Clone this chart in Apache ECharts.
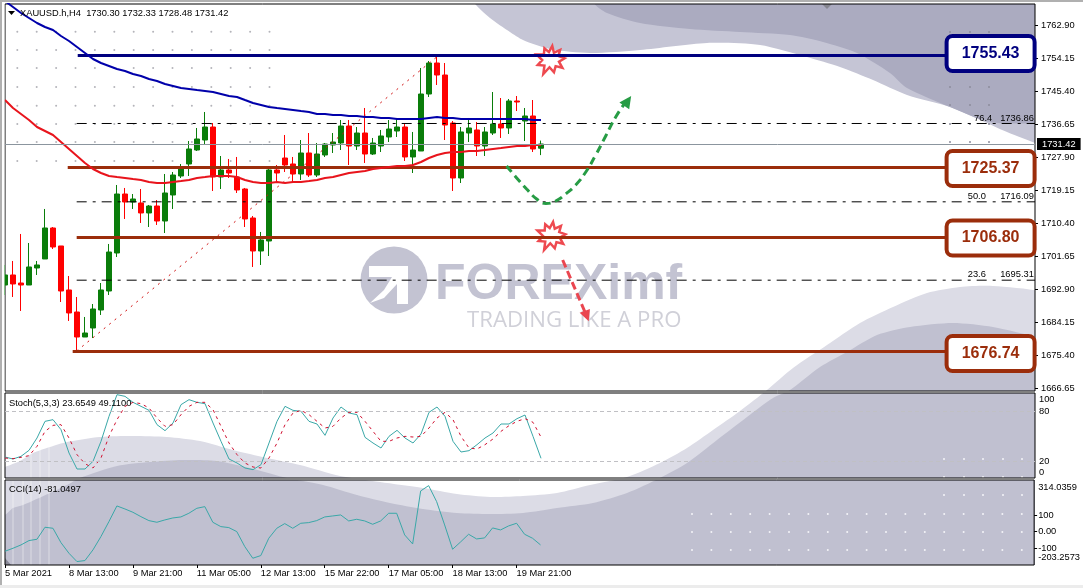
<!DOCTYPE html>
<html>
<head>
<meta charset="utf-8">
<style>
  html, body { margin: 0; padding: 0; background: #fff; }
  #chart { width: 1083px; height: 588px; }
</style>
</head>
<body>
<div id="chart"></div>
<script src="https://cdn.jsdelivr.net/npm/echarts@6/dist/echarts.min.js"></script>
<script>
// H4 candles
const opens = [1694.03,1696.69,1694.56,1694.03,1698.54,1700.93,1709.15,1704.38,1692.71,1686.87,1680.24,1682.63,1687.40,1692.44,1702.52,1718.16,1716.04,1715.78,1713.13,1714.98,1711.00,1717.90,1722.94,1726.12,1729.83,1732.48,1735.93,1722.67,1724.53,1722.67,1719.49,1711.80,1703.05,1705.70,1724.53,1727.71,1726.12,1723.47,1729.04,1723.20,1728.51,1731.16,1731.69,1736.20,1730.89,1734.34,1728.77,1730.89,1733.28,1734.87,1735.93,1727.98,1729.57,1744.68,1752.90,1749.72,1736.99,1722.41,1734.34,1735.14,1730.89,1734.34,1736.73,1735.67,1742.83,1737.52,1738.85,1730.30];
const closes = [1696.69,1694.30,1694.03,1698.81,1699.34,1709.15,1704.11,1692.44,1686.61,1680.24,1681.30,1687.67,1692.71,1702.78,1718.16,1716.04,1716.84,1713.13,1714.98,1711.00,1718.43,1723.20,1725.06,1730.10,1732.75,1735.93,1722.67,1724.53,1723.73,1719.23,1711.54,1703.05,1705.97,1724.53,1723.73,1725.85,1723.47,1729.04,1723.20,1728.77,1731.42,1731.95,1736.20,1730.89,1734.34,1728.77,1731.69,1733.55,1735.40,1735.93,1727.98,1729.83,1744.68,1752.90,1749.72,1736.46,1722.41,1734.61,1735.67,1730.89,1734.61,1736.73,1735.67,1742.83,1742.56,1738.85,1730.10,1731.42];
const lows = [1691.38,1690.85,1687.14,1694.03,1696.69,1700.93,1703.58,1689.52,1684.49,1676.27,1680.24,1679.98,1686.08,1691.38,1701.46,1711.54,1714.19,1710.48,1709.41,1709.95,1707.82,1714.19,1722.41,1722.94,1729.57,1731.16,1718.96,1719.49,1722.41,1718.43,1709.41,1698.81,1699.34,1701.72,1721.35,1724.00,1721.35,1721.88,1722.67,1722.67,1727.98,1729.04,1729.83,1725.85,1729.83,1726.39,1728.51,1729.30,1731.95,1733.28,1726.92,1723.73,1729.57,1743.89,1747.07,1732.48,1718.96,1721.08,1731.95,1728.24,1728.24,1733.81,1733.02,1734.08,1740.17,1732.22,1729.30,1728.48];
const highs = [1699.34,1700.40,1707.56,1705.17,1700.40,1714.19,1709.41,1704.38,1696.42,1690.85,1685.55,1688.99,1694.56,1704.91,1720.55,1719.76,1718.16,1719.49,1715.25,1716.57,1723.47,1724.00,1726.12,1732.22,1735.67,1739.91,1736.99,1728.24,1727.45,1727.98,1719.76,1712.33,1708.09,1725.06,1725.85,1733.81,1727.98,1732.48,1734.34,1731.69,1731.69,1734.34,1737.79,1737.79,1735.93,1740.97,1733.02,1735.14,1737.79,1738.32,1736.99,1734.61,1751.58,1753.43,1754.50,1752.90,1737.52,1735.93,1738.32,1737.26,1735.93,1745.21,1743.62,1743.36,1744.15,1740.97,1743.09,1732.33];

// moving averages on the price pane
const blueMa = [1769.34,1767.75,1766.16,1764.84,1763.51,1762.45,1761.65,1760.06,1758.74,1757.15,1755.56,1753.96,1752.90,1752.11,1751.31,1750.78,1749.99,1749.46,1748.66,1748.13,1747.33,1746.80,1746.27,1746.01,1745.74,1745.48,1745.21,1744.68,1744.15,1743.89,1743.09,1742.30,1741.77,1741.24,1740.97,1740.71,1740.44,1740.17,1739.91,1739.38,1739.38,1739.11,1739.11,1738.85,1738.85,1738.58,1738.58,1738.32,1738.32,1738.05,1738.05,1738.05,1738.05,1738.32,1738.58,1738.32,1738.32,1738.05,1738.05,1738.05,1738.05,1738.05,1738.05,1738.05,1738.05,1738.05,1737.79,1737.79];
const redMa = [1743.09,1740.97,1739.38,1737.79,1735.93,1734.87,1733.81,1731.95,1730.10,1728.24,1726.39,1724.79,1723.73,1722.94,1722.67,1722.41,1722.14,1721.88,1721.35,1721.08,1721.08,1721.35,1721.61,1721.88,1722.41,1722.67,1722.94,1722.94,1722.94,1722.67,1721.88,1721.35,1721.08,1721.08,1721.35,1721.08,1721.35,1721.35,1721.61,1721.88,1722.41,1722.67,1723.20,1723.73,1724.00,1724.26,1724.79,1725.06,1725.33,1725.59,1725.59,1725.85,1726.65,1727.71,1728.51,1729.04,1729.30,1729.30,1729.57,1729.57,1729.83,1730.10,1730.36,1730.63,1730.89,1730.89,1731.16,1731.16];

// indicators
const stochMain = [25.2,22.8,26,33.2,48,68,70,58,30,10.8,10.8,20,44,74,100,98,90.8,86,81.2,64,56.8,66,88,94,90.8,89.2,66,44,22.8,18,12,10,16,42,68,86,81.2,80,68,64.8,51.2,72,85.2,78,76,48.8,42,36,50,57.2,48,42,52.8,78.8,85.2,74,44,31.2,32.8,40,48,54,64.8,64.8,71.2,75.6,50,23.65];
const stochSignal = [24,23.2,24.8,26.8,38,56,63.2,64,48,28,17.2,12,24,50,70,86,90.8,89.2,84,72,62,64,76,86,90.8,90.8,82,62,42,28,18,13.2,12,24,42,64,78,81.2,76,68,60,62,72,78.8,78.8,68,56,44,44,48,50,49.2,50,60,72,78.8,70,50,36,34.8,40,46.8,56,62.8,68,71.2,66.8,49.11];
const cci = [-119.6,-101.4,-81.1,-54.7,-46.6,26.4,20.3,-66.9,-131.7,-182.4,-176.3,-111.5,-30.4,60.8,156.1,137.9,117.6,91.2,66.9,56.8,71,83.1,89.2,111.5,141.9,152,56.8,30.4,24.4,0,-91.2,-162.1,-145.9,-40.5,20.3,48.7,20.3,50.7,54.8,66.9,89.2,95.3,101.4,64.9,75,64.9,44.6,64.9,111.5,111.5,-20.2,-75,247.3,279.8,182.5,40.6,-107.4,-62.8,-16.2,-44.6,-38.5,22.3,10.2,34.5,50.7,-16.2,-40.5,-81.05];

// axis labels
const priceTicks = [1762.90,1754.15,1745.40,1736.65,1727.90,1719.15,1710.40,1701.65,1692.90,1684.15,1675.40,1666.65];
const timeBars = [0,8,16,24,32,40,48,56,64];
const timeLabels = ['5 Mar 2021','8 Mar 13:00','9 Mar 21:00','11 Mar 05:00','12 Mar 13:00','15 Mar 22:00','17 Mar 05:00','18 Mar 13:00','19 Mar 21:00'];

// drawn support / resistance levels
const levelNames = ['1755.43','1725.37','1706.80','1676.74'];
const levelPrices = [1754.89,1725.19,1706.63,1676.40];
const levelStartBars = [9.09,7.84,8.96,8.46];
const levelBoxPrices = [1755.42,1724.93,1706.50,1675.87];
const levelColors = ['#00007f','#9b2d0b','#9b2d0b','#9b2d0b'];

// fibonacci
const fibRatios = ['76.4','50.0','23.6'];
const fibPrices = [1736.86,1716.09,1695.31];
const fibRatioBars = [123.4,122.6,122.6];
const fibTrendBars = [8.96,53.96];
const fibTrendPrices = [1676.53,1754.50];

// hand drawn arrows
const greenArrowBars = [62.7,63.96,65.2,66.46,67.6,68.84,70.09,71.34,72.6,73.84,75.09,76.34,77.6];
const greenArrowPrices = [1725.59,1722.41,1719.49,1716.84,1715.65,1716.31,1718.17,1720.55,1724.00,1728.51,1733.55,1738.58,1742.56];
const redArrowBars = [69.71,72.6];
const redArrowPrices = [1700.66,1686.34];
const starBars = [68.2,68.3];
const starPrices = [1753.7,1707.03];

const lastPrice = 1731.42;
const lastBar = 128.75;
const textFont = 'Liberation Sans';
const bars = opens.map((_, i) => i);
const zip = (xs, ys) => xs.map((x, i) => [x, ys[i]]);

const chart = echarts.init(document.getElementById('chart'));

// background artwork of the template, sits behind everything
const poly = (points, fill) => ({ type: 'polygon', z: -10, shape: { points, smooth: 0.25 }, style: { fill }, silent: true });
const rect = (x, y, width, height, fill, z) => ({ type: 'rect', z: z === undefined ? -5 : z, shape: { x, y, width, height }, style: { fill }, silent: true });
const label = (text, x, y, size) => ({
  type: 'text', z: 50, x, y, silent: true,
  style: { text, fill: '#000', font: (size || 9.3) + 'px "' + textFont + '"', verticalAlign: 'middle' }
});

let art = [
  poly([[440,-60],[472,0],[490,18],[510,32],[523,40],[550,49],[590,53],[640,50],[707,43],[760,45],[807,57],[840,67],[873,80],[907,95],[950,107],[1007,132],[1040,145],[1120,180],[1120,-60]], '#c5c5d5'),
  poly([[570,-60],[593,2],[607,13],[640,23],[690,29],[740,32],[790,35],[823,42],[857,53],[890,73],[907,88],[950,107],[990,122],[1040,124],[1120,130],[1120,-60]], '#ababc0'),
  poly([[-50,490],[5,467],[20,461],[33,453],[50,447],[67,442],[100,437],[133,436],[167,437],[200,441],[233,450],[267,458],[300,465],[340,476],[380,482],[423,488],[457,494],[490,497],[523,496],[557,493],[590,485],[627,477],[660,463],[687,448],[713,430],[740,411],[767,390],[793,368],[827,345],[860,323],[893,307],[927,293],[960,287],[993,286],[1040,291],[1120,310],[1120,680],[-50,680]], '#dcdce6'),
  poly([[-50,550],[5,515],[13,508],[23,505],[50,493],[67,485],[80,478],[117,466],[150,462],[183,460],[217,461],[250,468],[283,477],[323,485],[357,495],[390,503],[423,509],[457,513],[490,514],[523,513],[557,508],[593,503],[627,493],[660,478],[687,463],[717,440],[747,417],[773,398],[790,390],[820,367],[847,352],[877,335],[910,327],[953,323],[993,327],[1040,338],[1120,360],[1120,680],[-50,680]], '#c0c0d0'),
  { type: 'polygon', z: -9, shape: { points: [[5,558],[5,565],[11,565]] }, style: { fill: '#8a8a98' }, silent: true },
  { type: 'polygon', z: -9, shape: { points: [[822,4],[832,4],[827,9]] }, style: { fill: '#85858f' }, silent: true }
];

// faint stripes at the left of the indicator panes
[13,23,31,40,49].forEach((x, i) => {
  art.push({ type: 'line', z: -8, shape: { x1: x, y1: i < 2 ? 481 : 447, x2: x, y2: 565 }, style: { stroke: '#fff', opacity: 0.45, lineWidth: 1 }, silent: true });
});

// dot pattern of the template
function dots(cols, rows, fill) {
  cols.forEach(x => rows.forEach(y => {
    art.push({ type: 'circle', z: -7, shape: { cx: x, cy: y, r: 1 }, style: { fill }, silent: true });
  }));
}
const dotCol = k => 17.3 + 19.4 * k;
dots([0,1,2,3,4,5,6,7,8,9,10,11,12,13].map(dotCol), [31.7,50,68,87,105.7,124,142,161], '#b4b4ba');
dots([950,970,989], [32,87,105,124,142], '#8c8c9c');
dots([944,964,983,1003,1022], [459,477,495], '#f4f4f8');
dots([0,1,2,3,4,5,6,7,8,9,10,11,12,13,14,15,16,17].map(k => 692 + 19.4 * k), [514,532,550], '#f4f4f8');

// FOREXimf logo
art.push(
  { type: 'circle', z: -6, shape: { cx: 394, cy: 280, r: 33.5 }, style: { fill: '#c3c3d2' }, silent: true },
  { type: 'polygon', z: -6, shape: { points: [[369,266],[408,266],[408,304],[397,304],[397,284],[384,298],[370,303],[384,290],[392,277],[369,277]] }, style: { fill: '#fff' }, silent: true },
  { type: 'text', z: -6, x: 435, y: 285, silent: true, style: { text: 'FOREXimf', fill: '#c3c3d2', font: 'bold 50px "Liberation Sans"', verticalAlign: 'middle' } },
  { type: 'text', z: -6, x: 467, y: 320.5, silent: true, style: { text: 'TRADING LIKE A PRO', fill: '#d0d0d8', font: '22.2px "Open Sans"', verticalAlign: 'middle' } }
);

// window margins and the gaps between the panes
art.push(
  rect(0, 0, 5, 588, '#fff'), rect(1035, 0, 48, 588, '#fff'),
  rect(0, 0, 1083, 4, '#fff'), rect(0, 565, 1083, 23, '#fff'),
  rect(0, 391, 1035, 2, '#fff'), rect(0, 478, 1035, 2, '#fff'),
  rect(0, 0, 2, 588, '#b0b0b0'), rect(0, 0, 1083, 2, '#b0b0b0'), rect(0, 585, 1083, 3, '#ececec'),
  // first candle sticks out of the pane on the left
  rect(2, 4, 2.5, 387, '#fff', 20)
);

// pane captions
art.push(
  { type: 'polygon', z: 50, shape: { points: [[8,11],[15,11],[11.5,15]] }, style: { fill: '#000' }, silent: true },
  label('XAUUSD.h,H4  1730.30 1732.33 1728.48 1731.42', 20, 13),
  label('Stoch(5,3,3) 23.6549 49.1100', 9, 403),
  label('CCI(14) -81.0497', 9, 489)
);

const xAxisBase = { type: 'value', min: 0, max: lastBar, splitLine: { show: false }, axisLine: { show: false, onZero: false } };

// Small helpers, all these lines look the same
function lineSeries(name, data, color, width, extra) {
  return Object.assign({
    name, type: 'line', data, symbol: 'none', silent: true,
    lineStyle: { color, width }, xAxisIndex: 0, yAxisIndex: 0
  }, extra || {});
}

let series = [];

// fibonacci levels stay behind the candles
fibPrices.forEach((p, i) => {
  series.push(lineSeries('fib' + fibRatios[i], [[8.96, p], [lastBar, p]], '#000', 1, { lineStyle: { color: '#000', width: 1, type: [10, 6, 3, 6] } }));
});
series.push(lineSeries('fibTrend', zip(fibTrendBars, fibTrendPrices), '#d01010', 1, { lineStyle: { color: '#d01010', width: 1, type: [2, 5] } }));

series.push({
  name: 'XAUUSD', type: 'candlestick', silent: true, xAxisIndex: 0, yAxisIndex: 0, barWidth: 5,
  data: bars.map(i => [i, opens[i], closes[i], lows[i], highs[i]]),
  encode: { x: 0, y: [1, 2, 3, 4] },
  itemStyle: { color: '#0a7d0a', color0: '#ff0000', borderColor: '#0a7d0a', borderColor0: '#ff0000', borderWidth: 1 },
  markLine: {
    silent: true, symbol: 'none', animation: false,
    lineStyle: { color: '#8b959e', width: 1, type: 'solid' },
    label: {
      position: 'end', distance: 2, formatter: lastPrice.toFixed(2), color: '#fff', backgroundColor: '#000',
      padding: [2, 5, 1, 5], fontFamily: textFont, fontSize: 9.3
    },
    data: [{ yAxis: lastPrice }]
  }
});

levelPrices.forEach((p, i) => {
  series.push(lineSeries('level' + levelNames[i], [[levelStartBars[i], p], [118, p]], levelColors[i], 3));
});

series.push(lineSeries('blueMa', zip(bars, blueMa), '#0000aa', 2));
series.push(lineSeries('redMa', zip(bars, redMa), '#e8141c', 2));

series.push(lineSeries('greenArrow', zip(greenArrowBars, greenArrowPrices), '#279c45', 3, {
  smooth: true, lineStyle: { color: '#279c45', width: 3, type: [8, 5] }
}));
series.push(lineSeries('redArrow', zip(redArrowBars, redArrowPrices), '#ea4650', 3, {
  lineStyle: { color: '#ea4650', width: 3, type: [8, 4] }
}));

series.push({
  name: 'arrowHeads', type: 'scatter', silent: true, xAxisIndex: 0, yAxisIndex: 0, symbol: 'triangle',
  data: [
    { value: [77.84, 1742.83], symbolRotate: -35, symbolSize: 12, itemStyle: { color: '#279c45', opacity: 1 } },
    { value: [72.72, 1685.8], symbolRotate: -159, symbolSize: 11, itemStyle: { color: '#ea4650', opacity: 1 } }
  ]
});

series.push({
  name: 'stars', type: 'scatter', silent: true, xAxisIndex: 0, yAxisIndex: 0, symbolSize: 28,
  symbol: 'path://M56 0 L62 24 L84 14 L78 36 L100 44 L80 56 L92 78 L68 72 L62 94 L46 76 L24 100 L28 70 L4 68 L20 50 L0 30 L26 30 L28 8 L44 22 Z',
  itemStyle: { color: '#fff', borderColor: '#ee4a50', borderWidth: 2.5, opacity: 1 },
  data: zip(starBars, starPrices)
});

// the boxed prices at the right
series.push({
  name: 'levelBoxes', type: 'scatter', silent: true, xAxisIndex: 0, yAxisIndex: 0, symbolSize: 1, z: 5,
  itemStyle: { color: 'transparent', opacity: 1 },
  data: levelNames.map((name, i) => ({
    value: [123.2, levelBoxPrices[i]],
    label: {
      show: true, position: 'inside', formatter: name, color: levelColors[i], opacity: 1,
      backgroundColor: '#fff', borderColor: levelColors[i], borderWidth: 4, borderRadius: 4,
      width: 84, height: 31, lineHeight: 31, align: 'center', verticalAlign: 'middle',
      fontFamily: 'Liberation Sans', fontWeight: 'bold', fontSize: 16
    }
  }))
});

// fibonacci captions
const fibText = (formatter, x, p) => ({
  value: [x, p],
  label: {
    show: true, position: 'top', distance: 1, formatter, color: '#000', opacity: 1,
    fontFamily: textFont, fontSize: 9.3, align: 'right', verticalAlign: 'bottom'
  }
});
series.push({
  name: 'fibCaptions', type: 'scatter', silent: true, xAxisIndex: 0, yAxisIndex: 0, symbolSize: 0, z: 5,
  itemStyle: { opacity: 1 },
  data: fibPrices.flatMap((p, i) => [fibText(fibRatios[i], fibRatioBars[i], p), fibText(p.toFixed(2), 128.6, p)])
});

series.push({
  name: 'stochMain', type: 'line', data: zip(bars, stochMain), symbol: 'none', silent: true,
  lineStyle: { color: '#3aa8a8', width: 1 }, xAxisIndex: 1, yAxisIndex: 1,
  markLine: {
    silent: true, symbol: 'none', animation: false, label: { show: false },
    lineStyle: { color: '#c0c0c4', width: 1, type: [4, 3] },
    data: [{ yAxis: 80 }, { yAxis: 20 }]
  }
});
series.push({
  name: 'stochSignal', type: 'line', data: zip(bars, stochSignal), symbol: 'none', silent: true,
  lineStyle: { color: '#d01030', width: 1, type: [3, 4] }, xAxisIndex: 1, yAxisIndex: 1
});
series.push({
  name: 'cci', type: 'line', data: zip(bars, cci), symbol: 'none', silent: true,
  lineStyle: { color: '#3aa8a8', width: 1 }, xAxisIndex: 2, yAxisIndex: 2
});

// labels of the two indicator panes are nudged inside the pane by the terminal
const stochLabels = { 94: '100', 80: '80', 20: '20', 7: '0' };
const cciLabels = { 267: '314.0359', 100: '100', 0: '0.00', '-100': '-100', '-160': '-203.2573' };

const option = {
  animation: false,
  backgroundColor: '#fff',
  graphic: { elements: art },
  grid: [
    { left: 5, width: 1030, top: 4, height: 387, show: true, backgroundColor: 'transparent', borderColor: '#000', borderWidth: 1 },
    { left: 5, width: 1030, top: 393, height: 85, show: true, backgroundColor: 'transparent', borderColor: '#000', borderWidth: 1 },
    { left: 5, width: 1030, top: 480, height: 85, show: true, backgroundColor: 'transparent', borderColor: '#000', borderWidth: 1 }
  ],
  xAxis: [
    Object.assign({}, xAxisBase, { gridIndex: 0, axisTick: { show: false }, axisLabel: { show: false } }),
    Object.assign({}, xAxisBase, { gridIndex: 1, axisTick: { show: false }, axisLabel: { show: false } }),
    Object.assign({}, xAxisBase, {
      gridIndex: 2,
      axisTick: { show: true, length: 3, customValues: timeBars, lineStyle: { color: '#000' } },
      axisLabel: {
        show: true, customValues: timeBars, align: 'left', margin: 4, color: '#000',
        fontFamily: textFont, fontSize: 9.3,
        formatter: v => timeLabels[timeBars.indexOf(v)]
      }
    })
  ],
  yAxis: [
    {
      type: 'value', gridIndex: 0, position: 'right', min: 1665.92, max: 1768.55,
      splitLine: { show: false }, axisLine: { show: false, onZero: false },
      axisTick: { show: true, length: 3, customValues: priceTicks, lineStyle: { color: '#000' } },
      axisLabel: { customValues: priceTicks, color: '#000', margin: 6, fontFamily: textFont, fontSize: 9.3, formatter: v => v.toFixed(2) }
    },
    {
      type: 'value', gridIndex: 1, position: 'right', min: 0, max: 102,
      splitLine: { show: false }, axisLine: { show: false, onZero: false },
      axisTick: { show: false },
      axisLabel: { customValues: [94, 80, 20, 7], color: '#000', margin: 4, fontFamily: textFont, fontSize: 9.3, formatter: v => stochLabels[v] }
    },
    {
      type: 'value', gridIndex: 2, position: 'right', min: -203.2573, max: 314.0359,
      splitLine: { show: false }, axisLine: { show: false, onZero: false },
      axisTick: { show: true, length: 3, customValues: [100, 0, -100], lineStyle: { color: '#000' } },
      axisLabel: { customValues: [267, 100, 0, -100, -160], color: '#000', margin: 4, fontFamily: textFont, fontSize: 9.3, formatter: v => cciLabels[v] }
    }
  ],
  series
};

chart.setOption(option);
</script>
</body>
</html>
